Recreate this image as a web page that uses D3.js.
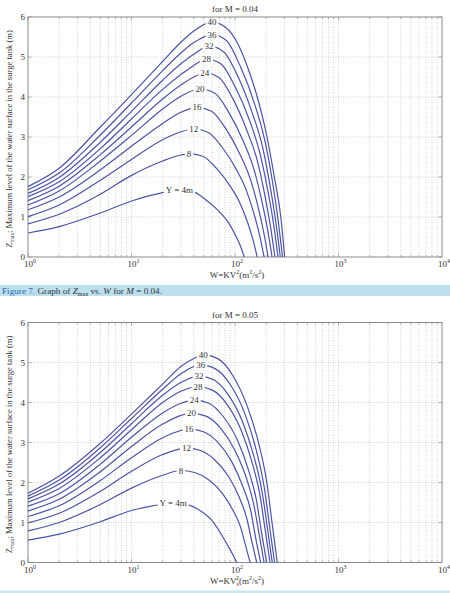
<!DOCTYPE html>
<html>
<head>
<meta charset="utf-8">
<script src="https://d3js.org/d3.v7.min.js"></script>
<style>
  body { margin: 0; background: #fff; }
  svg text { font-family: "Liberation Serif", "Times New Roman", serif; fill: #333; }
</style>
</head>
<body>
<svg width="450" height="593"></svg>
<script>

// surge tank heights Y (m), one curve each
var yLevels = [4, 8, 12, 16, 20, 24, 28, 32, 36, 40];
var zTicks = [0, 1, 2, 3, 4, 5, 6];
var wTicks = [1, 10, 100, 1000, 10000];

// M = 0.04 : [W, Zmax]
var m04y4  = [[1,0.60],[2,0.76],[5,1.10],[10,1.40],[20,1.61],[29,1.68],[38.7,1.64],[51.7,1.44],[69,1.16],[85.8,0.87],[99,0.59],[113,0.27],[123,0]];
var m04y8  = [[1,0.83],[2,1.07],[5,1.57],[10,2.04],[20,2.40],[30,2.55],[36,2.58],[48.8,2.52],[66,2.22],[89.4,1.78],[112,1.34],[131,0.90],[150,0.41],[164,0]];
var m04y12 = [[1,1.01],[2,1.30],[5,1.92],[10,2.44],[20,2.93],[30,3.13],[40,3.20],[54.7,3.12],[74.8,2.75],[102,2.21],[129,1.66],[151,1.12],[174,0.51],[191,0]];
var m04y16 = [[1,1.18],[2,1.50],[5,2.18],[10,2.77],[20,3.34],[30,3.62],[43,3.74],[58.9,3.65],[80.9,3.22],[111,2.58],[141,1.94],[165,1.31],[190,0.60],[209,0]];
var m04y20 = [[1,1.30],[2,1.65],[5,2.40],[10,3.04],[20,3.70],[30,4.02],[46,4.20],[63.4,4.10],[87.3,3.61],[120,2.90],[153,2.18],[179,1.47],[207,0.67],[228,0]];
var m04y24 = [[1,1.41],[2,1.77],[5,2.56],[10,3.25],[20,3.95],[30,4.30],[40,4.50],[51,4.60],[69.8,4.49],[95.3,3.96],[130,3.17],[165,2.39],[192,1.61],[221,0.74],[243,0]];
var m04y28 = [[1,1.51],[2,1.88],[5,2.71],[10,3.45],[20,4.19],[30,4.56],[40,4.79],[53,4.95],[72.8,4.83],[100,4.26],[138,3.42],[175,2.57],[205,1.73],[237,0.79],[260,0]];
var m04y32 = [[1,1.59],[2,1.99],[5,2.87],[10,3.64],[20,4.42],[30,4.83],[40,5.07],[56,5.27],[76.9,5.14],[106,4.53],[145,3.64],[185,2.74],[216,1.84],[249,0.84],[274,0]];
var m04y36 = [[1,1.68],[2,2.10],[5,3.05],[10,3.85],[20,4.66],[30,5.10],[40,5.36],[60,5.56],[82,5.42],[112,4.78],[154,3.84],[195,2.89],[228,1.95],[262,0.89],[288,0]];
var m04y40 = [[1,1.76],[2,2.22],[5,3.25],[10,4.06],[20,4.89],[30,5.37],[40,5.65],[60,5.87],[83,5.72],[104,5.38],[130,4.80],[162,4.05],[202,3.05],[240,2.00],[277,1.00],[302,0]];

// M = 0.05
var m05y4  = [[1,0.56],[2,0.71],[5,1.02],[10,1.30],[20,1.46],[25.3,1.50],[33.6,1.46],[44.6,1.32],[59,1.07],[73.1,0.72],[85.3,0.42],[94.2,0.22],[104,0]];
var m05y8  = [[1,0.79],[2,1.00],[5,1.45],[10,1.86],[20,2.18],[30,2.30],[40.8,2.25],[55.6,2.07],[75.5,1.73],[95.3,1.31],[113,0.89],[126,0.44],[140,0]];
var m05y12 = [[1,0.99],[2,1.23],[5,1.78],[10,2.28],[20,2.70],[34,2.86],[46.4,2.80],[63.5,2.57],[86.7,2.15],[110,1.63],[130,1.10],[145,0.54],[162,0]];
var m05y16 = [[1,1.15],[2,1.42],[5,2.05],[10,2.62],[20,3.12],[30,3.30],[36,3.34],[49.5,3.27],[68.1,3.01],[93.5,2.51],[119,1.90],[142,1.29],[158,0.63],[177,0]];
var m05y20 = [[1,1.29],[2,1.58],[5,2.27],[10,2.90],[20,3.46],[30,3.68],[38,3.73],[52.5,3.66],[72.5,3.36],[100,2.80],[128,2.13],[152,1.44],[171,0.71],[191,0]];
var m05y24 = [[1,1.41],[2,1.72],[5,2.46],[10,3.13],[20,3.74],[30,3.98],[40.4,4.06],[55.7,3.98],[76.9,3.65],[106,3.05],[135,2.31],[161,1.56],[180,0.77],[202,0]];
var m05y28 = [[1,1.51],[2,1.85],[5,2.62],[10,3.32],[20,4.00],[30,4.28],[44,4.40],[60.5,4.31],[83.4,3.96],[115,3.30],[146,2.51],[174,1.69],[195,0.84],[218,0]];
var m05y32 = [[1,1.59],[2,1.96],[5,2.75],[10,3.47],[20,4.18],[30,4.50],[45,4.66],[62.2,4.57],[86.3,4.19],[119,3.50],[152,2.66],[182,1.79],[205,0.89],[229,0]];
var m05y36 = [[1,1.66],[2,2.06],[5,2.87],[10,3.60],[20,4.33],[30,4.72],[46.6,4.94],[64.7,4.84],[89.9,4.45],[125,3.71],[160,2.82],[191,1.90],[215,0.94],[241,0]];
var m05y40 = [[1,1.73],[2,2.16],[5,2.98],[10,3.71],[20,4.46],[30,4.90],[40,5.10],[49.4,5.19],[68.7,5.09],[95.5,4.67],[132,3.89],[170,2.96],[203,2.00],[228,0.99],[256,0]];

var svg = d3.select("svg");
var lineColor = "#4d53a4";

function drawChart(cfg) {
    var x = d3.scaleLog().domain([1, 10000]).range([28, 442]);
    var y = d3.scaleLinear().domain([0, 6]).range([cfg.bottom, cfg.top]);
    var g = svg.append("g");

    // minor + major log grid
    var xGrid = [];
    for (var d = 0; d < 4; d++)
        for (var k = 1; k < 10; k++) xGrid.push(k * Math.pow(10, d));
    xGrid = xGrid.filter(function(v) { return v > 1; });

    g.selectAll(".vgrid").data(xGrid).enter().append("line")
        .attr("x1", function(v) { return x(v); })
        .attr("x2", function(v) { return x(v); })
        .attr("y1", cfg.top).attr("y2", cfg.bottom)
        .attr("stroke", "#b4b4b4").attr("stroke-width", 0.6)
        .attr("stroke-dasharray", "1,1.5");

    g.selectAll(".hgrid").data(zTicks.slice(1, -1)).enter().append("line")
        .attr("x1", 28).attr("x2", 442)
        .attr("y1", function(v) { return y(v); })
        .attr("y2", function(v) { return y(v); })
        .attr("stroke", "#b4b4b4").attr("stroke-width", 0.6)
        .attr("stroke-dasharray", "1,1.5");

    // inside ticks, top and bottom
    g.selectAll(".xt").data(xGrid.concat([1])).enter().append("path")
        .attr("d", function(v) {
            var len = wTicks.indexOf(v) >= 0 ? 3.5 : 2;
            return "M" + x(v) + "," + cfg.bottom + "v" + (-len) +
                   "M" + x(v) + "," + cfg.top + "v" + len;
        })
        .attr("stroke", "#888").attr("stroke-width", 0.6);
    g.selectAll(".yt").data(zTicks).enter().append("path")
        .attr("d", function(v) { return "M28," + y(v) + "h3.5M442," + y(v) + "h-3.5"; })
        .attr("stroke", "#888").attr("stroke-width", 0.6);

    g.append("rect")
        .attr("x", 28).attr("y", cfg.top)
        .attr("width", 414).attr("height", cfg.bottom - cfg.top)
        .attr("fill", "none").attr("stroke", "#8a8a8a").attr("stroke-width", 1);

    // curves
    var line = d3.line()
        .x(function(p) { return x(p[0]); })
        .y(function(p) { return y(p[1]); })
        .curve(d3.curveMonotoneX);

    g.selectAll(".curve").data(cfg.curves).enter().append("path")
        .attr("d", line)
        .attr("fill", "none")
        .attr("stroke", lineColor)
        .attr("stroke-width", 1.2);

    // labels on the crest of each curve
    cfg.curves.forEach(function(c, i) {
        var top = c.reduce(function(a, b) { return b[1] > a[1] ? b : a; });
        var lx = x(top[0]), ly = y(top[1]);
        var t = g.append("text")
            .attr("x", lx).attr("y", ly + 3)
            .attr("text-anchor", "middle")
            .attr("font-size", 9)
            .text(i === 0 ? "Y = 4m" : yLevels[i]);
        var w = t.node().getComputedTextLength();
        g.insert("rect", function() { return t.node(); })
            .attr("x", lx - w / 2 - 2).attr("y", ly - 4)
            .attr("width", w + 4).attr("height", 8)
            .attr("fill", "#fff");
    });

    // y tick labels
    g.selectAll(".ylab").data(zTicks).enter().append("text")
        .attr("x", 25).attr("y", function(v) { return y(v) + 3; })
        .attr("text-anchor", "end")
        .attr("font-size", 9)
        .text(function(v) { return v; });

    // x tick labels 10^n
    wTicks.forEach(function(v, i) {
        var t = g.append("text")
            .attr("x", x(v) + 2).attr("y", cfg.bottom + 10)
            .attr("text-anchor", "middle")
            .attr("font-size", 9);
        t.append("tspan").text("10");
        t.append("tspan").attr("dy", -4).attr("font-size", 6).text(i);
    });

    // title
    g.append("text")
        .attr("x", 235).attr("y", cfg.top - 5)
        .attr("text-anchor", "middle")
        .attr("font-size", 9)
        .text(cfg.title);

    // x axis title
    var xl = g.append("text")
        .attr("x", 237).attr("y", cfg.bottom + 21)
        .attr("text-anchor", "middle")
        .attr("font-size", 9);
    xl.append("tspan").text("W=KV");
    if (cfg.sub) {
        xl.append("tspan").attr("dy", 2).attr("font-size", 6).text("s");
        xl.append("tspan").attr("dx", -3).attr("dy", -6).attr("font-size", 6).text("2");
        xl.append("tspan").attr("dy", 4).text("(m");
    } else {
        xl.append("tspan").attr("dy", -4).attr("font-size", 6).text("2");
        xl.append("tspan").attr("dy", 4).text("(m");
    }
    xl.append("tspan").attr("dy", -4).attr("font-size", 6).text("2");
    xl.append("tspan").attr("dy", 4).text("/s");
    xl.append("tspan").attr("dy", -4).attr("font-size", 6).text("2");
    xl.append("tspan").attr("dy", 4).text(")");

    // y axis title
    var yl = g.append("text")
        .attr("transform", "translate(12," + ((cfg.top + cfg.bottom) / 2 + 2) + ") rotate(-90)")
        .attr("text-anchor", "middle")
        .attr("font-size", 8.6);
    yl.append("tspan").text("Z");
    yl.append("tspan").attr("dy", 2).attr("font-size", 5.5).text("max");
    yl.append("tspan").attr("dy", -2).text("; Maximum level of the water surface in the surge tank (m)");
}

drawChart({
    top: 17, bottom: 257, title: "for M = 0.04", sub: false,
    curves: [m04y4, m04y8, m04y12, m04y16, m04y20, m04y24, m04y28, m04y32, m04y36, m04y40]
});
drawChart({
    top: 322.5, bottom: 562.5, title: "for M = 0.05", sub: true,
    curves: [m05y4, m05y8, m05y12, m05y16, m05y20, m05y24, m05y28, m05y32, m05y36, m05y40]
});

// figure caption
svg.append("rect").attr("x", 0).attr("y", 285).attr("width", 450).attr("height", 11)
    .attr("fill", "#bde0ee");
var cap = svg.append("text").attr("x", 2).attr("y", 294).attr("font-size", 9.2);
cap.append("tspan").style("fill", "#2b6cb3").text("Figure 7.");
cap.append("tspan").text(" Graph of ");
cap.append("tspan").attr("font-style", "italic").text("Z");
cap.append("tspan").attr("dy", 2).attr("font-size", 6).text("max");
cap.append("tspan").attr("dy", -2).text(" vs. ");
cap.append("tspan").attr("font-style", "italic").text("W");
cap.append("tspan").text(" for ");
cap.append("tspan").attr("font-style", "italic").text("M");
cap.append("tspan").text(" = 0.04.");

svg.append("rect").attr("x", 0).attr("y", 590.5).attr("width", 450).attr("height", 2.5)
    .attr("fill", "#c9e7f1");

</script>
</body>
</html>
